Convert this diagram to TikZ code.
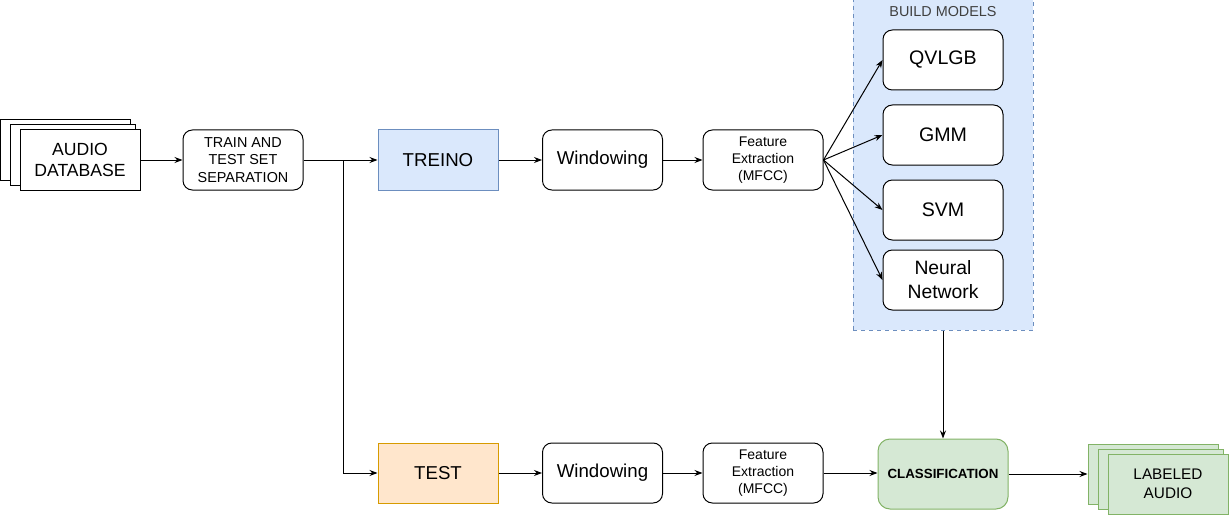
\documentclass[tikz,border=0pt]{standalone}
\usepackage{fontspec}
\setmainfont{Liberation Sans}
\usetikzlibrary{arrows.meta}

\definecolor{bluefill}{HTML}{DAE8FC}
\definecolor{blueline}{HTML}{6C8EBF}
\definecolor{orangefill}{HTML}{FFE6CC}
\definecolor{orangeline}{HTML}{D79B00}
\definecolor{greenfill}{HTML}{D5E8D4}
\definecolor{greenline}{HTML}{82B366}

\begin{document}
\begin{tikzpicture}[x=0.75pt, y=-0.75pt, line width=0.75pt,
	>={Stealth[length=6pt,width=4.5pt]},
	box/.style={draw, rounded corners=7pt, minimum width=90pt, minimum height=45pt,
		align=center, inner sep=1pt, fill=white},
	sqbox/.style={draw, minimum width=90pt, minimum height=45pt, align=center,
		inner sep=1pt, fill=white},
	fbig/.style={font=\fontsize{14}{17}\selectfont},
	fmid/.style={font=\fontsize{10.8}{13}\selectfont}]
	\useasboundingbox (0,0) rectangle (1229,517);

	% build models container
	\node[draw=blueline, dashed, fill=bluefill, minimum width=135pt,
	minimum height=247.5pt] (models) at (943,165) {};
	\node[fmid, text=black!75] (modtitle) at (943,12) {BUILD MODELS};

	% audio database stack
	\node[sqbox, minimum width=97.5pt] (db3) at (65,150) {};
	\node[sqbox, minimum width=93.75pt] (db2) at (72.5,155) {};
	\node[sqbox, fbig, font=\fontsize{13.2}{15.5}\selectfont] (db) at (80,160) {AUDIO\\DATABASE};

	\node[box, fmid] (sep) at (243,160) {TRAIN AND\\TEST SET\\SEPARATION};

	% training line
	\node[sqbox, fbig, draw=blueline, fill=bluefill] (treino) at (438,160) {TREINO};
	\node[box, fbig] (win1) at (602.5,160) {Windowing};
	\node[box, fmid, font=\fontsize{10.5}{13}\selectfont] (fe1) at (763,160) {Feature\\Extraction\\(MFCC)};

	\node[box, fbig, font=\fontsize{14.7}{17}\selectfont] (qvlgb) at (943,60) {QVLGB};
	\node[box, fbig, font=\fontsize{14.7}{17}\selectfont] (gmm) at (943,135) {GMM};
	\node[box, fbig, font=\fontsize{14.7}{17}\selectfont] (svm) at (943,210) {SVM};
	\node[box, fbig, font=\fontsize{14.5}{18}\selectfont] (nn) at (943,280) {Neural\\Network};

	% test line
	\node[sqbox, fbig, draw=orangeline, fill=orangefill] (test) at (438,473) {TEST};
	\node[box, fbig] (win2) at (602.5,473) {Windowing};
	\node[box, fmid, font=\fontsize{10.5}{13}\selectfont] (fe2) at (763,473) {Feature\\Extraction\\(MFCC)};
	\node[box, rounded corners=9pt, draw=greenline, fill=greenfill, minimum width=97.5pt,
	minimum height=52.5pt, font=\bfseries\fontsize{10}{12}\selectfont] (cls) at (943,474) {CLASSIFICATION};

	% labeled audio stack
	\node[sqbox, draw=greenline, fill=greenfill, minimum width=97.5pt] (lab3) at (1153,474) {};
	\node[sqbox, draw=greenline, fill=greenfill, minimum width=93.75pt] (lab2) at (1160.5,479) {};
	\node[sqbox, draw=greenline, fill=greenfill, fmid, font=\fontsize{11.5}{14}\selectfont] (lab) at (1168,484) {LABELED\\AUDIO};

	% connectors
	\coordinate (split) at (343,160);
	\draw[->] (db) -- (sep);
	\draw[->] (sep) -- (treino);
	\draw[->] (split) |- (test);
	\draw[->] (treino) -- (win1);
	\draw[->] (win1) -- (fe1);
	\foreach \m in {qvlgb,gmm,svm,nn}
		\draw[->] (fe1.east) -- (\m.west);
	\draw[->] (models) -- (cls);
	\draw[->] (test) -- (win2);
	\draw[->] (win2) -- (fe2);
	\draw[->] (fe2) -- (fe2 -| cls.west);
	\draw[->] (cls) -- (lab3);
\end{tikzpicture}
\end{document}
